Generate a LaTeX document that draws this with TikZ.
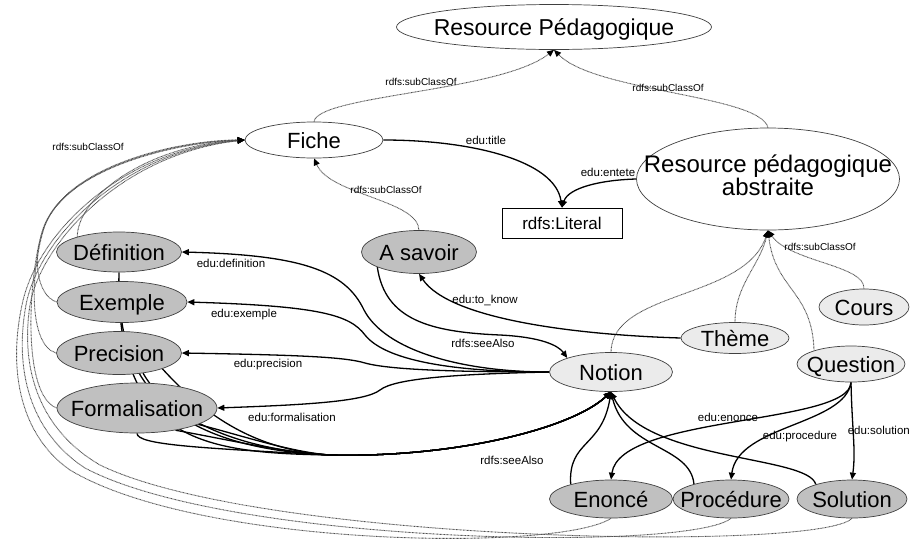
\documentclass[tikz,border=0pt]{standalone}
\usepackage{fontspec}
\setmainfont{Liberation Sans}
\usetikzlibrary{arrows.meta,shapes.geometric,backgrounds}
\definecolor{dkfill}{HTML}{C0C0C0}
\definecolor{ltfill}{HTML}{EBEBEB}
\definecolor{bord}{HTML}{404040}
\definecolor{dotc}{HTML}{505050}
\newcommand{\ctxt}[1]{\makebox[0pt][c]{#1}}
\tikzset{
  cls/.style={ellipse, draw=bord, line width=0.7pt, inner sep=0pt, font=\fontsize{22}{24}\selectfont},
  fixh/.style={text height=16pt, text depth=0pt},
  whitecls/.style={cls, fill=white},
  darkcls/.style={cls, fixh, fill=dkfill},
  lightcls/.style={cls, fixh, fill=ltfill},
  litbox/.style={rectangle, draw=black, line width=0.7pt, fill=white, minimum width=120pt, minimum height=30pt, inner sep=0pt, font=\fontsize{17}{19}\selectfont},
  sub/.style={draw=dotc, line width=0.9pt, dash pattern=on 0.8pt off 0.6pt, -{Triangle[length=7pt,width=6pt,color=black]}},
  prop/.style={draw=black, line width=1.3pt, -{Triangle[length=7pt,width=6pt]}},
  elab/.style={inner sep=0pt, font=\fontsize{11.5}{13}\selectfont},
  slab/.style={inner sep=0pt, font=\fontsize{10}{12}\selectfont},
}
\begin{document}
\begin{tikzpicture}[x=1pt,y=1pt]
\useasboundingbox (0,0) rectangle (911,-539);
% nodes
\node[whitecls, fixh, minimum width=315pt, minimum height=45pt, font=\fontsize{23}{25}\selectfont] (rp) at (554,-27) {\ctxt{Resource Pédagogique}};
\node[whitecls, fixh, minimum width=138pt, minimum height=36pt] (fiche) at (314,-140) {\ctxt{Fiche}};
\node[whitecls, minimum width=263pt, minimum height=102pt, font=\fontsize{24}{26}\selectfont] (rpa) at (768,-179) {\ctxt{\begin{tabular}{@{}c@{}}Resource pédagogique\\[-3pt]abstraite\end{tabular}}};
\node[litbox] (lit) at (562,-223) {rdfs:Literal};
\node[darkcls, minimum width=115pt, minimum height=43pt] (asavoir) at (419,-252) {\ctxt{A savoir}};
\node[darkcls, minimum width=125pt, minimum height=40pt] (def) at (119,-252) {\ctxt{Définition}};
\node[darkcls, minimum width=130pt, minimum height=41pt] (ex) at (122,-302) {\ctxt{Exemple}};
\node[darkcls, minimum width=125pt, minimum height=43pt] (prec) at (119,-353) {\ctxt{Precision}};
\node[darkcls, minimum width=160pt, minimum height=50pt] (form) at (137,-408) {\ctxt{Formalisation}};
\node[lightcls, minimum width=123pt, minimum height=39pt] (notion) at (611,-372) {\ctxt{Notion}};
\node[lightcls, minimum width=108pt, minimum height=31pt] (theme) at (735,-338) {\ctxt{Thème}};
\node[lightcls, minimum width=90pt, minimum height=36pt] (cours) at (864,-307) {\ctxt{Cours}};
\node[lightcls, minimum width=108pt, minimum height=36pt] (question) at (851,-364) {\ctxt{Question}};
\node[darkcls, minimum width=123pt, minimum height=38pt] (enonce) at (611,-499) {\ctxt{Enoncé}};
\node[darkcls, minimum width=116pt, minimum height=38pt] (proc) at (731,-499) {\ctxt{Procédure}};
\node[darkcls, minimum width=110pt, minimum height=38pt] (sol) at (852,-499) {\ctxt{Solution}};
% labels
\node[slab] (l1) at (421,-82) {rdfs:subClassOf};
\node[slab] (l2) at (668,-88) {rdfs:subClassOf};
\node[slab] (l3) at (386,-190) {rdfs:subClassOf};
\node[slab] (l4) at (88,-147) {rdfs:subClassOf};
\node[slab] (l5) at (820,-247) {rdfs:subClassOf};
\node[elab] (l6) at (486,-140) {edu:title};
\node[elab] (l7) at (608,-172) {edu:entete};
\node[elab] (l8) at (231,-263) {edu:definition};
\node[elab] (l9) at (244,-315) {edu:exemple};
\node[elab] (l10) at (268,-365) {edu:precision};
\node[elab] (l11) at (292,-417) {edu:formalisation};
\node[elab] (l12) at (485,-300) {edu:to\_know};
\node[elab] (l13) at (483,-343) {rdfs:seeAlso};
\node[elab] (l14) at (512,-460) {rdfs:seeAlso};
\node[elab] (l15) at (728,-417) {edu:enonce};
\node[elab] (l16) at (800,-437) {edu:procedure};
\node[elab, anchor=east] (l17) at (910,-430) {edu:solution};
\begin{pgfonlayer}{background}
% subClassOf (dotted)
\draw[sub] (fiche.north) .. controls (318,-95) and (500,-92) .. (rp.south);
\draw[sub] (rpa.north) .. controls (760,-95) and (595,-92) .. (rp.south);
\draw[sub] (asavoir.north) .. controls (418,-200) and (330,-195) .. (fiche.south);
\draw[sub] (notion.north) .. controls (612,-290) and (745,-300) .. (rpa.south);
\draw[sub] (theme.north) .. controls (735,-285) and (760,-265) .. (rpa.south);
\draw[sub] (question.160) .. controls (812,-290) and (775,-290) .. (rpa.south);
\draw[sub] (cours.north) .. controls (865,-265) and (790,-262) .. (rpa.south);
\draw[sub] (def.160) .. controls (78,-195) and (150,-145) .. (fiche.west);
\draw[sub] (ex.west) .. controls (35,-295) and (30,-250) .. (50,-215) .. controls (80,-165) and (180,-142) .. (fiche.west);
\draw[sub] (prec.west) .. controls (28,-345) and (30,-270) .. (45,-225) .. controls (70,-165) and (180,-141) .. (fiche.west);
\draw[sub] (form.west) .. controls (22,-395) and (28,-280) .. (42,-232) .. controls (62,-165) and (180,-140) .. (fiche.west);
\draw[sub] (enonce.south) .. controls (560,-552) and (200,-548) .. (70,-470) .. controls (20,-435) and (8,-370) .. (22,-305) .. controls (36,-235) and (120,-150) .. (fiche.west);
\draw[sub] (proc.south) .. controls (690,-552) and (230,-545) .. (85,-468) .. controls (30,-432) and (14,-370) .. (26,-305) .. controls (38,-240) and (120,-152) .. (fiche.west);
\draw[sub] (sol.south) .. controls (820,-552) and (260,-543) .. (100,-465) .. controls (40,-430) and (20,-370) .. (30,-305) .. controls (40,-245) and (120,-154) .. (fiche.west);
% properties (solid)
\draw[prop] (fiche.east) .. controls (470,-140) and (555,-160) .. (lit.north);
\draw[prop] (rpa.west) .. controls (600,-180) and (568,-188) .. (lit.north);
\draw[prop] (notion.west) .. controls (460,-372) and (385,-350) .. (364,-310) .. controls (345,-270) and (300,-255) .. (def.east);
\draw[prop] (notion.west) .. controls (450,-372) and (385,-360) .. (365,-335) .. controls (350,-315) and (320,-306) .. (ex.east);
\draw[prop] (notion.west) .. controls (460,-372) and (390,-370) .. (365,-363) .. controls (345,-357) and (300,-355) .. (prec.east);
\draw[prop] (notion.west) .. controls (460,-374) and (395,-378) .. (380,-390) .. controls (365,-402) and (300,-405) .. (form.east);
\draw[prop] (theme.west) .. controls (580,-335) and (450,-320) .. (asavoir.south);
\draw[prop] (asavoir.200) .. controls (385,-320) and (430,-332) .. (500,-335) .. controls (540,-337) and (558,-345) .. (notion.north west);
% seeAlso bundle to Notion
\draw[prop] (def.south) .. controls (115,-440) and (200,-453) .. (330,-455) .. controls (450,-458) and (570,-430) .. (notion.south);
\draw[prop] (ex.south) .. controls (135,-410) and (210,-450) .. (330,-455) .. controls (450,-458) and (570,-430) .. (notion.south);
\draw[prop] (prec.-40) .. controls (170,-420) and (240,-450) .. (330,-455) .. controls (450,-458) and (570,-430) .. (notion.south);
\draw[prop] (prec.-20) .. controls (200,-410) and (250,-450) .. (330,-455) .. controls (450,-458) and (570,-430) .. (notion.south);
\draw[prop] (form.south) .. controls (137,-445) and (200,-448) .. (330,-455) .. controls (450,-458) and (570,-430) .. (notion.south);
\draw[prop] (form.-30) .. controls (230,-440) and (280,-452) .. (330,-455) .. controls (450,-458) and (570,-430) .. (notion.south);
\draw[prop] (form.-15) .. controls (240,-435) and (290,-452) .. (330,-455) .. controls (450,-458) and (570,-430) .. (notion.south);
\draw[prop] (enonce.160) .. controls (568,-440) and (602,-448) .. (notion.south);
\draw[prop] (proc.158) .. controls (690,-445) and (625,-450) .. (notion.south);
\draw[prop] (sol.158) .. controls (808,-455) and (645,-462) .. (notion.south);
% question parts
\draw[prop] (question.south) .. controls (850,-425) and (620,-415) .. (enonce.north);
\draw[prop] (question.south) .. controls (845,-425) and (738,-425) .. (proc.north);
\draw[prop] (question.south) .. controls (852,-430) and (856,-450) .. (sol.north);
\end{pgfonlayer}
\end{tikzpicture}
\end{document}
